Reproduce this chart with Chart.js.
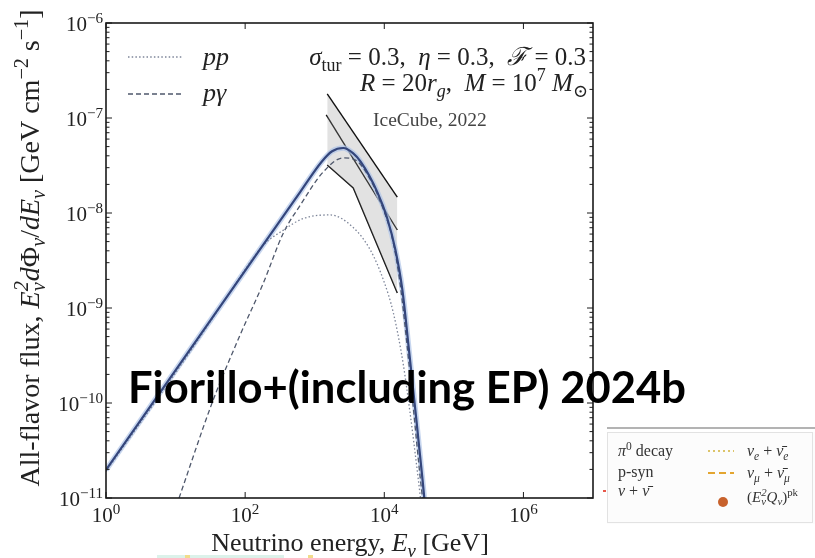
<!DOCTYPE html>
<html>
<head>
<meta charset="utf-8">
<script src="https://cdn.jsdelivr.net/npm/chart.js@4.4.1/dist/chart.umd.min.js"></script>
<style>
  html, body { margin: 0; padding: 0; background: #fff; }
  canvas { display: block; }
</style>
</head>
<body>
<canvas id="chart" width="815" height="558"></canvas>
<script>
// ── Values: log10(E / GeV), log10(flux) ──────────────────────────

const totalLogE = [0, 1.83, 2.79, 3.10, 3.25, 3.41, 3.55, 3.66, 3.90, 4.04, 4.16, 4.26, 4.35, 4.45, 4.55, 4.575];
const totalLogF = [-10.705, -8.785, -7.78, -7.46, -7.35, -7.316, -7.37, -7.46, -7.78, -8.05, -8.39, -8.81, -9.41, -10.10, -10.81, -11.0];

const ppLogE = [0, 1.2, 1.885, 2.26, 2.55, 2.83, 3.22, 3.55, 3.80, 3.99, 4.13, 4.27, 4.37, 4.49, 4.52];
const ppLogF = [-10.72, -9.47, -8.72, -8.34, -8.18, -8.06, -8.02, -8.15, -8.39, -8.71, -9.05, -9.58, -10.10, -10.81, -11.0];

const pgLogE = [1.05, 1.54, 1.93, 2.26, 2.55, 2.79, 3.12, 3.41, 3.58, 3.80, 3.99, 4.12, 4.23, 4.32, 4.42, 4.52, 4.55];
const pgLogF = [-11.0, -9.97, -9.28, -8.74, -8.21, -7.92, -7.57, -7.42, -7.44, -7.65, -7.97, -8.28, -8.76, -9.34, -10.07, -10.81, -11.0];

// IceCube 2022 band (NGC 1068)
const icUpperLogE = [3.18, 4.187];
const icUpperLogF = [-6.747, -7.832];
const icMidLogE   = [3.165, 4.187];
const icMidLogF   = [-6.968, -8.179];
const icLowerLogE = [3.18, 3.554, 4.187];
const icLowerLogF = [-7.495, -7.737, -8.842];

// Axis ticks (labels are 10^exp)
const xTickValues = [1, 1e2, 1e4, 1e6];
const xTickExps   = ["0", "2", "4", "6"];
const yTickValues = [1e-11, 1e-10, 1e-9, 1e-8, 1e-7, 1e-6];
const yTickExps   = ["−11", "−10", "−9", "−8", "−7", "−6"];
const yMinorSteps = [2, 3, 4, 5, 6, 7, 8, 9];

const overlayText = "Fiorillo+(including EP) 2024b";

// ── Helpers ───────────────────────────────────────────

const SERIF = "'Liberation Serif', 'DejaVu Serif', serif";

function toPoints(logE, logF) {
  return logE.map((e, i) => ({ x: Math.pow(10, e), y: Math.pow(10, logF[i]) }));
}

/** Draw a run of text pieces: [text, style] with style i / sub / sup / isub / supsub */
function drawRich(ctx, x, y, parts, size, align) {
  const segs = parts.map(p => {
    const [t, st = ""] = Array.isArray(p) ? p : [p];
    const it = st.startsWith("i") ? "italic " : "";
    if (st === "supsub") {
      ctx.font = `italic ${size * 0.72}px ${SERIF}`;
      const w = Math.max(ctx.measureText(t[0]).width, ctx.measureText(t[1]).width);
      return { stack: t, font: ctx.font, w };
    }
    const small = st.includes("sub") || st.includes("sup");
    ctx.font = `${it}${small ? size * 0.72 : size}px ${SERIF}`;
    const dy = st.includes("sub") ? size * 0.22 : st.includes("sup") ? -size * 0.4 : 0;
    return { t, font: ctx.font, w: ctx.measureText(t).width, dy };
  });
  const total = segs.reduce((s, g) => s + g.w, 0);
  let cx = align === "right" ? x - total : align === "center" ? x - total / 2 : x;
  ctx.textAlign = "left";
  ctx.textBaseline = "alphabetic";
  segs.forEach(g => {
    ctx.font = g.font;
    if (g.stack) {
      ctx.fillText(g.stack[0], cx, y - size * 0.4);
      ctx.fillText(g.stack[1], cx, y + size * 0.22);
    } else {
      ctx.fillText(g.t, cx, y + g.dy);
    }
    cx += g.w;
  });
}

function line(ctx, x0, y0, x1, y1) {
  ctx.beginPath(); ctx.moveTo(x0, y0); ctx.lineTo(x1, y1); ctx.stroke();
}

// ── Plugins: frame + inward ticks + tick labels, annotations ──

const frameTicks = {
  id: "frameTicks",
  afterDatasetsDraw(chart) {
    const { ctx, chartArea: a, scales: { x, y } } = chart;
    ctx.save();
    ctx.strokeStyle = "#1a1a1a";
    ctx.lineWidth = 1;
    x.ticks.forEach((t, i) => {
      const px = x.getPixelForValue(t.value);
      line(ctx, px, a.bottom, px, a.bottom - 6);
      line(ctx, px, a.top, px, a.top + 6);
      ctx.fillStyle = "#222";
      drawRich(ctx, px, 522, ["10", [xTickExps[i], "sup"]], 21, "center");
    });
    y.ticks.forEach((t, i) => {
      const py = y.getPixelForValue(t.value);
      line(ctx, a.left, py, a.left + 6, py);
      line(ctx, a.right, py, a.right - 6, py);
      ctx.fillStyle = "#222";
      drawRich(ctx, 103, py + 8, ["10", [yTickExps[i], "sup"]], 21, "right");
      if (i === y.ticks.length - 1) return;
      yMinorSteps.forEach(m => {
        const pm = y.getPixelForValue(t.value * m);
        line(ctx, a.left, pm, a.left + 3.5, pm);
        line(ctx, a.right, pm, a.right - 3.5, pm);
      });
    });
    ctx.lineWidth = 1.6;
    ctx.strokeRect(a.left, a.top, a.right - a.left, a.bottom - a.top);
    ctx.restore();
  },
};

const annotations = {
  id: "annotations",
  afterDraw(chart) {
    const { ctx } = chart;
    ctx.save();
    ctx.fillStyle = "#222";

    // axis titles
    drawRich(ctx, 350, 551, ["Neutrino energy, ", ["E", "i"], ["ν", "isub"], " [GeV]"], 26, "center");
    ctx.save();
    ctx.translate(39, 248);
    ctx.rotate(-Math.PI / 2);
    drawRich(ctx, 0, 0, ["All-flavor flux, ", ["E", "i"], [["2", "ν"], "supsub"], ["d", "i"], "Φ", ["ν", "isub"],
      "/", ["dE", "i"], ["ν", "isub"], " [GeV cm", ["−2", "sup"], " s", ["−1", "sup"], "]"], 28, "center");
    ctx.restore();

    // legend (top-left)
    ctx.strokeStyle = "#7d8599";
    ctx.lineWidth = 1.3;
    ctx.setLineDash([1.5, 2.2]);
    line(ctx, 128, 57, 182, 57);
    ctx.strokeStyle = "#4f586c";
    ctx.setLineDash([5, 3]);
    line(ctx, 128, 94, 182, 94);
    ctx.setLineDash([]);
    drawRich(ctx, 203, 65, [["pp", "i"]], 26, "left");
    drawRich(ctx, 203, 101, [["pγ", "i"]], 26, "left");

    // parameters (top-right)
    drawRich(ctx, 586, 65, [["σ", "i"], ["tur", "sub"], " = 0.3,  ", ["η", "i"], " = 0.3,  ", ["ℱ", "i"], " = 0.3"], 25, "right");
    drawRich(ctx, 588, 91, [["R", "i"], " = 20", ["r", "i"], ["g", "isub"], ",  ", ["M", "i"], " = 10", ["7", "sup"], " ",
      ["M", "i"], ["⊙", "sub"]], 25, "right");
    ctx.fillStyle = "#444";
    drawRich(ctx, 373, 126, ["IceCube, 2022"], 19.5, "left");

    // pasted inset legend (bottom-right)
    ctx.fillStyle = "#fcfcfc";
    ctx.fillRect(607, 432, 208, 92);
    ctx.strokeStyle = "#e2e2e2";
    ctx.lineWidth = 1;
    ctx.strokeRect(607.5, 432.5, 205, 90);
    ctx.strokeStyle = "#9a9a9a";
    ctx.lineWidth = 1.5;
    line(ctx, 607, 428, 815, 428);
    ctx.fillStyle = "#333";
    drawRich(ctx, 618, 456, [["π", "i"], ["0", "sup"], " decay"], 16, "left");
    drawRich(ctx, 618, 477, ["p-syn"], 16, "left");
    drawRich(ctx, 618, 496, [["ν", "i"], " + ", ["ν̄", "i"]], 16, "left");
    drawRich(ctx, 747, 456, [["ν", "i"], ["e", "isub"], " + ", ["ν̄", "i"], ["e", "isub"]], 16, "left");
    drawRich(ctx, 747, 478, [["ν", "i"], ["μ", "isub"], " + ", ["ν̄", "i"], ["μ", "isub"]], 16, "left");
    drawRich(ctx, 747, 502, ["(", ["E", "i"], [["2", "ν"], "supsub"], ["Q", "i"], ["ν", "isub"], ")", ["pk", "sup"]], 15, "left");
    ctx.strokeStyle = "#dcc46a";
    ctx.lineWidth = 2;
    ctx.setLineDash([2, 3]);
    line(ctx, 708, 451, 734, 451);
    ctx.strokeStyle = "#e3a530";
    ctx.setLineDash([7, 4]);
    line(ctx, 708, 473, 734, 473);
    ctx.setLineDash([]);
    ctx.fillStyle = "#c8622c";
    ctx.beginPath(); ctx.arc(723, 502, 5, 0, Math.PI * 2); ctx.fill();
    ctx.fillStyle = "#e8584a";
    ctx.fillRect(603, 490, 3, 2);

    // slide fragments peeking in at the bottom edge
    ctx.fillStyle = "#dcf2ea";
    ctx.fillRect(157, 555, 127, 3);
    ctx.fillStyle = "#f1dc8a";
    ctx.fillRect(185, 555, 5, 3);
    ctx.fillRect(308, 555, 5, 3);

    // overlaid caption
    ctx.fillStyle = "#000";
    ctx.font = "bold 40px Lato, 'Open Sans', sans-serif";
    const fs = 40 * 558 / ctx.measureText(overlayText).width;
    ctx.font = `bold ${fs}px Lato, 'Open Sans', sans-serif`;
    ctx.textAlign = "left";
    ctx.textBaseline = "alphabetic";
    ctx.fillText(overlayText, 128, 403);
    ctx.restore();
  },
};

// ── Chart ─────────────────────────────────────────────

const total = toPoints(totalLogE, totalLogF);

const lineDefaults = { pointRadius: 0, showLine: true, cubicInterpolationMode: "monotone", fill: false };
const straight = { cubicInterpolationMode: "default", tension: 0 };

new Chart(document.getElementById("chart"), {
  type: "scatter",
  data: {
    datasets: [
      { ...lineDefaults, ...straight, label: "IceCube upper", data: toPoints(icUpperLogE, icUpperLogF),
        borderColor: "#111", borderWidth: 1.4, fill: { target: 2 }, backgroundColor: "rgba(150,150,150,0.28)", order: 5 },
      { ...lineDefaults, ...straight, label: "IceCube mid", data: toPoints(icMidLogE, icMidLogF),
        borderColor: "#111", borderWidth: 1.4, order: 5 },
      { ...lineDefaults, ...straight, label: "IceCube lower", data: toPoints(icLowerLogE, icLowerLogF),
        borderColor: "#111", borderWidth: 1.4, order: 5 },
      { ...lineDefaults, label: "pp", data: toPoints(ppLogE, ppLogF), borderColor: "#7d8599",
        borderWidth: 1.3, borderDash: [1.5, 2.2], order: 3 },
      { ...lineDefaults, label: "pγ", data: toPoints(pgLogE, pgLogF), borderColor: "#4f586c",
        borderWidth: 1.3, borderDash: [5, 3], order: 3 },
      { ...lineDefaults, label: "total halo", data: total, borderColor: "rgba(175,196,232,0.7)",
        borderWidth: 5.5, order: 4 },
      { ...lineDefaults, label: "total", data: total, borderColor: "#34467c", borderWidth: 2.2, order: 1 },
    ],
  },
  options: {
    responsive: false,
    animation: false,
    layout: { padding: { left: 0, right: 222, top: 23, bottom: 0 } },
    plugins: { legend: { display: false }, tooltip: { enabled: false } },
    scales: {
      x: {
        type: "logarithmic", min: 1, max: 1e7,
        grid: { display: false }, border: { display: false },
        afterBuildTicks: s => { s.ticks = xTickValues.map(v => ({ value: v })); },
        afterFit: s => { s.height = 60; },
        ticks: { display: false, autoSkip: false },
      },
      y: {
        type: "logarithmic", min: 1e-11, max: 1e-6,
        grid: { display: false }, border: { display: false },
        afterBuildTicks: s => { s.ticks = yTickValues.map(v => ({ value: v })); },
        afterFit: s => { s.width = 106; },
        ticks: { display: false, autoSkip: false },
      },
    },
  },
  plugins: [frameTicks, annotations],
});
</script>
</body>
</html>
